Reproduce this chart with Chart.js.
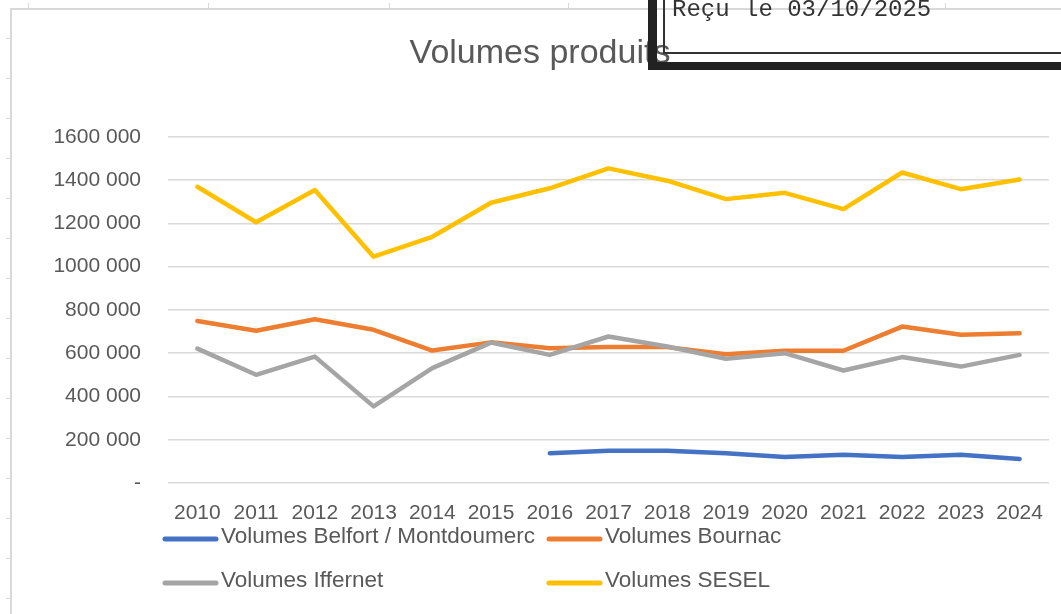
<!DOCTYPE html>
<html lang="fr">
<head>
<meta charset="utf-8">
<title>Volumes produits</title>
<script src="https://cdn.jsdelivr.net/npm/chart.js@4.4.1/dist/chart.umd.min.js"></script>
<style>
    html, body { margin: 0; padding: 0; background: #fff; }
    #page { position: relative; width: 1061px; height: 614px; overflow: hidden; }
    #chart { position: absolute; left: 0; top: 0; z-index: 2; }
    .deco { position: absolute; background: #d9d9d9; z-index: 1; }
    #stamp {
        position: absolute; left: 648px; top: -10px; width: 430px; height: 80px;
        box-sizing: border-box; border-left: 9px solid #222; border-bottom: 8px solid #222;
        z-index: 3;
    }
    #stamp-inner {
        position: absolute; left: 6px; top: 0; right: 0; bottom: 8px;
        border-left: 2px solid #333; border-bottom: 2px solid #333;
    }
    #stamp-text {
        position: absolute; left: 672px; top: -2px; z-index: 4;
        font-family: "Liberation Mono", "DejaVu Sans Mono", monospace;
        font-size: 24px; line-height: 24px; color: #333; white-space: pre;
    }
</style>
</head>
<body>
<div id="page">
    <canvas id="chart" width="1061" height="614"></canvas>
    <div id="stamp"><div id="stamp-inner"></div></div>
    <div id="stamp-text">Reçu le 03/10/2025</div>
</div>
<script>
// données
const years = ['2010', '2011', '2012', '2013', '2014', '2015', '2016', '2017',
    '2018', '2019', '2020', '2021', '2022', '2023', '2024'];
const volBelfort = [null, null, null, null, null, null, 138000, 149000,
    149000, 138000, 120000, 131000, 120000, 131000, 111000];
const volBournac = [749000, 704000, 757000, 708000, 612000, 650000, 623000, 628000,
    628000, 595000, 611000, 611000, 723000, 685000, 692000];
const volIffernet = [621000, 500000, 584000, 354000, 531000, 649000, 592000, 677000,
    631000, 574000, 600000, 520000, 582000, 538000, 592000];
const volSesel = [1369000, 1205000, 1354000, 1046000, 1138000, 1295000, 1362000, 1454000,
    1397000, 1312000, 1341000, 1266000, 1435000, 1358000, 1403000];
const yTickLabels = ['-', '200 000', '400 000', '600 000', '800 000',
    '1000 000', '1200 000', '1400 000', '1600 000'];

const textColor = '#595959';
const fontFamily = '"Liberation Sans", Arial, sans-serif';

// fond de feuille : bordure et petits repères
const page = document.getElementById('page');
function addDeco(l, t, w, h) {
    const d = document.createElement('div');
    d.className = 'deco';
    d.style.left = l + 'px';
    d.style.top = t + 'px';
    d.style.width = w + 'px';
    d.style.height = h + 'px';
    page.appendChild(d);
}
addDeco(10, 8, 1051, 2);
addDeco(10, 8, 2, 606);
[28, 208, 389, 568, 945].forEach(x => addDeco(x, 3, 1, 5));
for (let y = 38; y < 614; y += 40) addDeco(6, y, 4, 1);

// légende sur deux colonnes, comme dans Excel
const gridLegend = {
    id: 'gridLegend',
    afterDraw(chart) {
        const ctx = chart.ctx;
        const area = chart.chartArea;
        const cols = [area.left - 5, area.left + 379];
        const rows = [area.bottom + 56, area.bottom + 100];
        ctx.save();
        ctx.font = '22.5px ' + fontFamily;
        ctx.textBaseline = 'middle';
        ctx.fillStyle = textColor;
        chart.data.datasets.forEach((ds, i) => {
            const x = cols[i % 2];
            const y = rows[Math.floor(i / 2)];
            ctx.strokeStyle = ds.borderColor;
            ctx.lineWidth = 5;
            ctx.lineCap = 'round';
            ctx.beginPath();
            ctx.moveTo(x + 2, y);
            ctx.lineTo(x + 53, y);
            ctx.stroke();
            ctx.fillText(ds.label, x + 58, y - 2);
        });
        ctx.restore();
    }
};

function serie(label, data, color, order) {
    return {
        label: label,
        data: data,
        borderColor: color,
        backgroundColor: color,
        borderWidth: 4.5,
        borderCapStyle: 'round',
        borderJoinStyle: 'round',
        pointRadius: 0,
        tension: 0,
        fill: false,
        order: order
    };
}

const ctx = document.getElementById('chart').getContext('2d');
new Chart(ctx, {
    type: 'line',
    data: {
        labels: years,
        datasets: [
            serie('Volumes Belfort / Montdoumerc', volBelfort, '#4472C4', 4),
            serie('Volumes Bournac', volBournac, '#ED7D31', 3),
            serie('Volumes Iffernet', volIffernet, '#A5A5A5', 2),
            serie('Volumes SESEL', volSesel, '#FFC000', 1)
        ]
    },
    options: {
        responsive: false,
        devicePixelRatio: 1,
        animation: false,
        layout: { padding: { left: 20, right: 1, top: 0, bottom: 90 } },
        scales: {
            x: {
                offset: true,
                grid: { display: false, drawTicks: false },
                border: { display: false },
                ticks: {
                    color: textColor,
                    font: { family: fontFamily, size: 21 },
                    padding: 18,
                    maxRotation: 0,
                    autoSkip: false
                },
                afterFit: (s) => { s.height = 41; }
            },
            y: {
                min: 0,
                max: 1600000,
                grid: { color: '#d9d9d9', lineWidth: 1.5, drawTicks: false },
                border: { display: false },
                ticks: {
                    stepSize: 200000,
                    color: textColor,
                    font: { family: fontFamily, size: 21 },
                    padding: 27,
                    callback: (v, i) => yTickLabels[i]
                },
                afterFit: (s) => { s.width = 148; }
            }
        },
        plugins: {
            legend: { display: false },
            tooltip: { enabled: false },
            title: {
                display: true,
                text: 'Volumes produits',
                color: textColor,
                font: { family: fontFamily, size: 34, weight: 'normal' },
                padding: { top: 33, bottom: 63 }
            }
        }
    },
    plugins: [gridLegend]
});
</script>
</body>
</html>
